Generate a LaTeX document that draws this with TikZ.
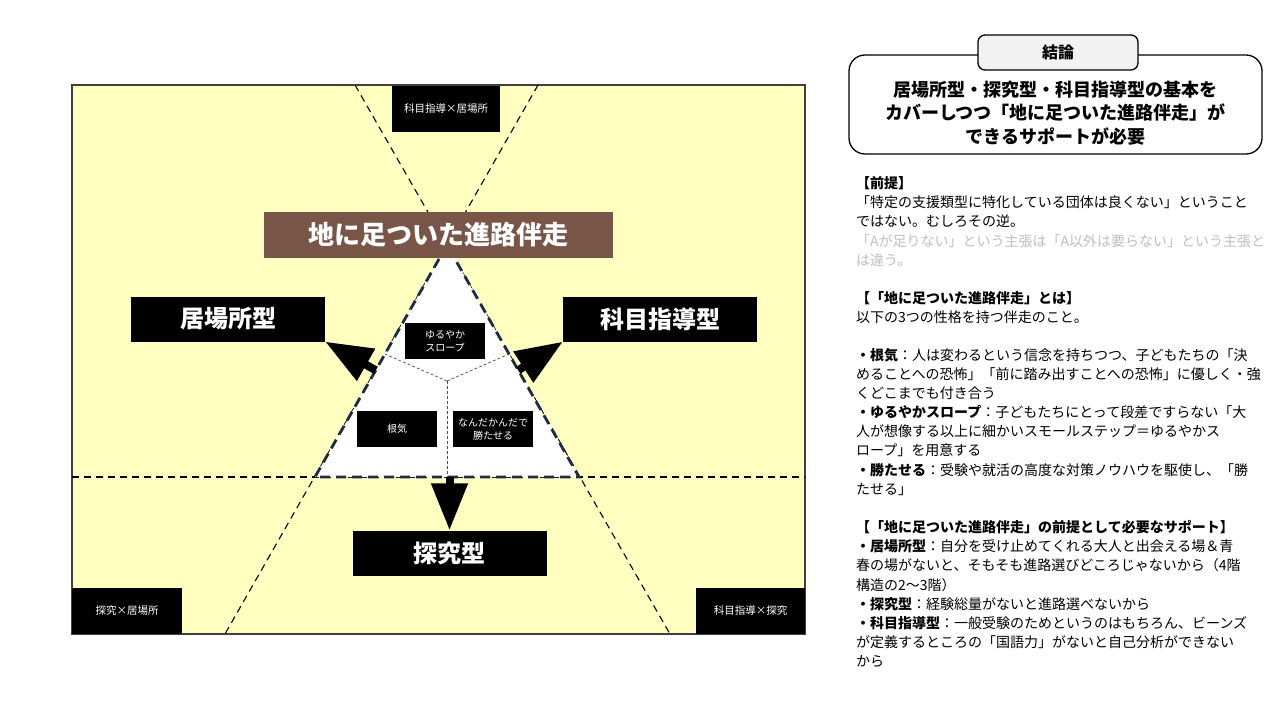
\documentclass[tikz,border=0pt]{standalone}
\usepackage{fontspec}
\setmainfont{Noto Sans CJK JP}
\usepackage{xcolor}
\usepackage{tikz}
\usetikzlibrary{arrows.meta, positioning, calc}

\definecolor{fieldyellow}{RGB}{255,255,192}
\definecolor{goalbrown}{RGB}{121,85,72}
\definecolor{edgenavy}{RGB}{30,44,72}
\definecolor{tabgray}{RGB}{242,242,242}
\definecolor{notegray}{RGB}{190,190,190}

\begin{document}
\begin{tikzpicture}[
  x=1pt, y=-1pt,
  every node/.style={align=center, inner sep=0pt},
  typebox/.style={fill=black, text=white, minimum width=194pt, minimum height=45pt, font=\bfseries\fontsize{24}{28}\selectfont},
  mixbox/.style={fill=black, text=white, minimum height=46pt, font=\fontsize{10.5}{13}\selectfont},
  traitbox/.style={fill=black, text=white, minimum width=80pt, minimum height=36pt, font=\fontsize{10}{13}\selectfont},
  goalbox/.style={fill=goalbrown, text=white, minimum width=349pt, minimum height=46pt, font=\bfseries\fontsize{26}{30}\selectfont},
  headframe/.style={draw, line width=1.3pt, rounded corners=16pt, minimum width=413pt, minimum height=99pt},
  tabbox/.style={draw, line width=1.3pt, fill=tabgray, rounded corners=7pt, minimum width=160pt, minimum height=35pt, font=\bfseries\fontsize{16}{20}\selectfont},
  boundary/.style={line width=1.1pt, dash pattern=on 7pt off 5pt},
  tripath/.style={draw=edgenavy, fill=white, line width=2.8pt, dash pattern=on 10pt off 6pt},
  spoke/.style={draw=black!70, line width=0.7pt, dash pattern=on 3pt off 2pt},
  arrow/.style={-{Triangle[length=47pt, width=35pt]}, line width=8pt},
  memo/.style={anchor=north west, align=left, font=\fontsize{14}{19.1}\selectfont}
]
\useasboundingbox (0,0) rectangle (1280,720);

% Field
\draw[fill=fieldyellow, draw=black!75, line width=1.2pt] (72,85) rectangle (805,634);

\coordinate (top_l) at (355,85);
\coordinate (bot_r) at (670,634);
\coordinate (top_r) at (538,85);
\coordinate (bot_l) at (225,634);
\coordinate (mid_l) at (72,477);
\coordinate (mid_r) at (805,477);
\coordinate (apex) at (447,245);
\coordinate (base_l) at (315,477);
\coordinate (base_r) at (579,477);
\coordinate (hub) at (447,381);

% Dividers
\draw[boundary] (top_l) -- (bot_r);
\draw[boundary] (top_r) -- (bot_l);
\draw[boundary] (mid_l) -- (mid_r);

% Triangle
\draw[tripath] (apex) -- (base_l) -- (base_r) -- cycle;
\draw[spoke] (hub) -- ($(apex)!0.47!(base_l)$);
\draw[spoke] (hub) -- ($(apex)!0.47!(base_r)$);
\draw[spoke] (hub) -- ($(base_l)!0.5!(base_r)$);

% Nodes
\node[goalbox] (goal) at (438.5,235) {地に足ついた進路伴走};
\node[typebox] (ibasho) at (228,319) {居場所型};
\node[typebox] (kamoku) at (660,319) {科目指導型};
\node[typebox] (tankyu) at (449.5,553) {探究型};

\node[mixbox, minimum width=108pt] (kamoku_ibasho) at (446,108.5) {科目指導×居場所};
\node[mixbox, minimum width=110pt] (tankyu_ibasho) at (127,611) {探究×居場所};
\node[mixbox, minimum width=109pt] (kamoku_tankyu) at (750.5,611) {科目指導×探究};

\node[traitbox] (slope) at (445,341) {ゆるやか\\スロープ};
\node[traitbox] (konki) at (397,429) {根気};
\node[traitbox] (win) at (493,429) {なんだかんだで\\勝たせる};

% Arrows
\coordinate (ibasho_from) at ($(apex)!0.54!(base_l)$);
\coordinate (kamoku_from) at ($(apex)!0.54!(base_r)$);
\draw[arrow] (ibasho_from) -- (ibasho.south east);
\draw[arrow] (kamoku_from) -- (kamoku.south west);
\draw[arrow] (tankyu.north |- base_l) -- (tankyu.north);

% Conclusion
\node[headframe] (conclusion_frame) at (1055.5,104.5) {};
\node[font=\bfseries\fontsize{18}{23.5}\selectfont] (conclusion) at (1055.5,113) {居場所型・探究型・科目指導型の基本を\\カバーしつつ「地に足ついた進路伴走」が\\できるサポートが必要};
\node[tabbox] (tab) at (1058,52.5) {結論};

% Notes
\node[memo] (premise) at (856,176.5) {{\bfseries 【前提】}\\
「特定の支援類型に特化している団体は良くない」ということ\\
ではない。むしろその逆。\\
{\color{notegray}「Aが足りない」という主張は「A以外は要らない」という主張と}\\
{\color{notegray}は違う。}};

\node[memo] (definition) at (856,291) {{\bfseries 【「地に足ついた進路伴走」とは】}\\
以下の3つの性格を持つ伴走のこと。\\[19.1pt]
{\bfseries ・根気}：人は変わるという信念を持ちつつ、子どもたちの「決\\
めることへの恐怖」「前に踏み出すことへの恐怖」に優しく・強\\
くどこまでも付き合う\\
{\bfseries ・ゆるやかスロープ}：子どもたちにとって段差ですらない「大\\
人が想像する以上に細かいスモールステップ＝ゆるやかス\\
ロープ」を用意する\\
{\bfseries ・勝たせる}：受験や就活の高度な対策ノウハウを駆使し、「勝\\
たせる」};

\node[memo] (support) at (856,520.3) {{\bfseries 【「地に足ついた進路伴走」の前提として必要なサポート】}\\
{\bfseries ・居場所型}：自分を受け止めてくれる大人と出会える場＆青\\
春の場がないと、そもそも進路選びどころじゃないから（4階\\
構造の2～3階）\\
{\bfseries ・探究型}：経験総量がないと進路選べないから\\
{\bfseries ・科目指導型}：一般受験のためというのはもちろん、ビーンズ\\
が定義するところの「国語力」がないと自己分析ができない\\
から};

\end{tikzpicture}
\end{document}
